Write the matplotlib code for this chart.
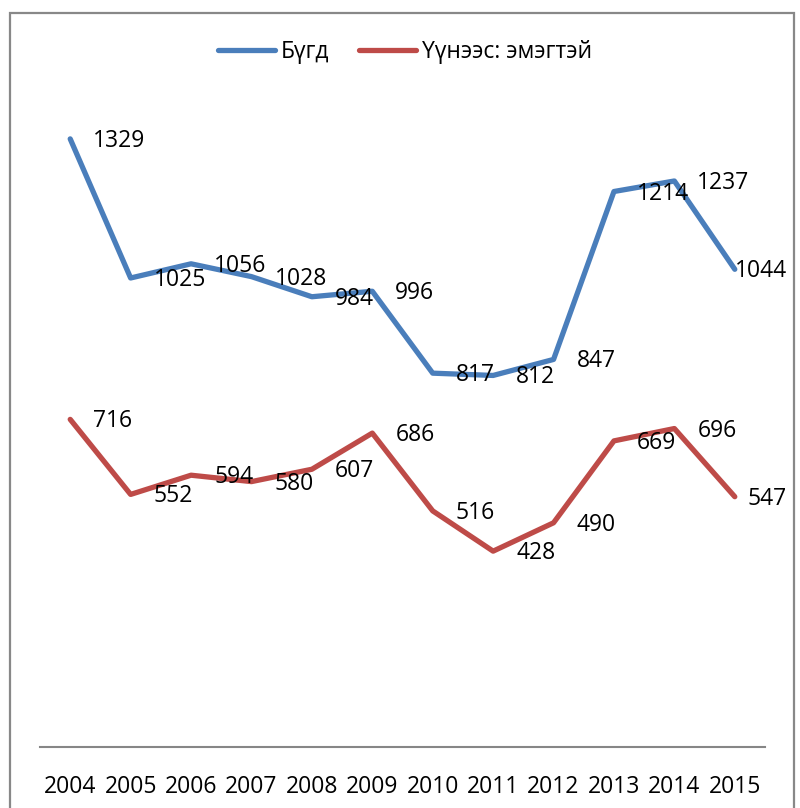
import matplotlib
matplotlib.use("Agg")
import matplotlib.pyplot as plt
from matplotlib.patches import Rectangle

years = ["2004", "2005", "2006", "2007", "2008", "2009", "2010", "2011", "2012", "2013", "2014", "2015"]
total = [1329, 1025, 1056, 1028, 984, 996, 817, 812, 847, 1214, 1237, 1044]
female = [716, 552, 594, 580, 607, 686, 516, 428, 490, 669, 696, 547]
series_names = ["Бүгд", "Үүнээс: эмэгтэй"]

plt.rcParams['font.family'] = ['Open Sans', 'DejaVu Sans']
FS = 16.5

fig = plt.figure(figsize=(8.0, 8.08), dpi=100)
W, H = 800, 808
ax = fig.add_axes([40 / W, (H - 747) / H, 725 / W, 640.6 / H])

x = list(range(len(years)))
blue = "#4A7EBB"
red = "#BE4B48"
ax.plot(x, total, color=blue, lw=3.8, solid_capstyle='round', solid_joinstyle='round',
        label=series_names[0], zorder=2)
ax.plot(x, female, color=red, lw=3.8, solid_capstyle='round', solid_joinstyle='round',
        label=series_names[1], zorder=2)

for series in (total, female):
    for i, v in enumerate(series):
        if i == len(series) - 1:
            ax.annotate(str(v), (i, v), xytext=(52, -2), textcoords='offset pixels',
                        ha='right', va='center', fontsize=FS, color='black', zorder=4)
        else:
            ax.annotate(str(v), (i, v), xytext=(23, -2), textcoords='offset pixels',
                        ha='left', va='center', fontsize=FS, color='black', zorder=4)

ax.set_xlim(-0.5, len(years) - 0.5)
ax.set_ylim(0, 1400)
ax.set_xticks(x)
ax.set_xticklabels(years, fontsize=FS)
ax.tick_params(axis='x', length=0, pad=20)
ax.set_yticks([])
for s in ('left', 'right', 'top'):
    ax.spines[s].set_visible(False)
ax.spines['bottom'].set_color('#868686')
ax.spines['bottom'].set_linewidth(1.5)

leg = fig.legend(loc='center', bbox_to_anchor=(405 / W, 1 - 52 / H), ncol=2, frameon=False,
                 fontsize=FS, handlelength=2.5, handletextpad=0.25, columnspacing=1.3)
for line in leg.get_lines():
    line.set_linewidth(3.8)
    line.set_solid_capstyle('round')

fig.patches.append(Rectangle((10 / W, -0.01), 784 / W, (H - 13) / H + 0.01, transform=fig.transFigure,
                             fill=False, edgecolor='#888888', lw=1.6))

fig.savefig("out.png", dpi=100)
